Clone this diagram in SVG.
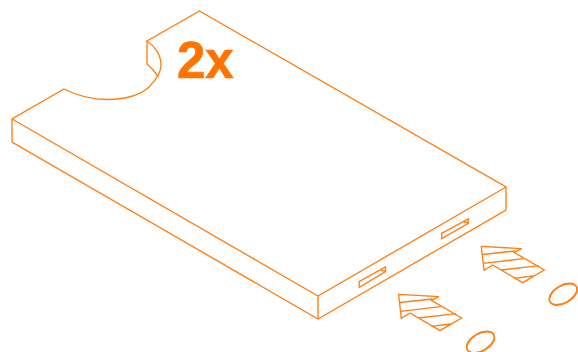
<svg xmlns="http://www.w3.org/2000/svg" width="578" height="352" viewBox="0 0 578 352">
<style>
.l{fill:none;stroke:#ff7f14;stroke-width:1.35;stroke-linejoin:miter}
.t{font-family:"Liberation Sans",Arial,sans-serif;font-weight:700;font-size:51px;fill:#ff7300;stroke:#ff7300;stroke-width:.7}
</style>
<defs>
<g id="arrow">
<path class="l" d="M481.3 246.3L521.7 248.700L514 252.3L544.3 270L522.7 282.7L492.7 265L484 270.3Z"/>
<path class="l" d="M482.3 254.500L515 251M483.3 263.3L523.300 258.700M501 270L539 265.700M514 278.300L533.300 276"/>
</g>
<g id="pad">
<ellipse class="l" cx="563" cy="294" rx="15.200" ry="8.700" transform="rotate(-30 563 294)"/>
<ellipse class="l" cx="563.500" cy="294.500" rx="15.200" ry="8.700" transform="rotate(-30 563.500 294.500)"/>
</g>
</defs>
<g id="connectors"/>
<g id="body">
<path class="l" d="M199.5 11L506 187V210L318 319L12 142V119L64 89C78 96 92 99.500 107 99.500C125 99.500 141 95 149 87C156 80 161 73 161 65C161 55 155 46 147 41Z"/>
<path class="l" d="M12 119L318 296L506 187M318 296V319M147 41V64C151 68 155 71 158 77"/>
</g>
<g id="slot1">
<path class="l" d="M359 281.700L385.500 267V271.700L359.300 287.300ZM381 270.500L385.500 271.200"/>
</g>
<g id="slot2">
<path class="l" d="M441.700 233.300L468.300 219V223.300L441.700 238.700ZM463.800 222L468.300 222.700"/>
</g>
<g id="label"><text class="t" x="177" y="78">2x</text></g>
<g id="arrow-right"><use href="#arrow"/></g>
<g id="arrow-left"><use href="#arrow" transform="translate(-82.700 48)"/></g>
<g id="pad-right"><use href="#pad"/></g>
<g id="pad-left"><use href="#pad" transform="translate(-82.700 48)"/></g>
</svg>
